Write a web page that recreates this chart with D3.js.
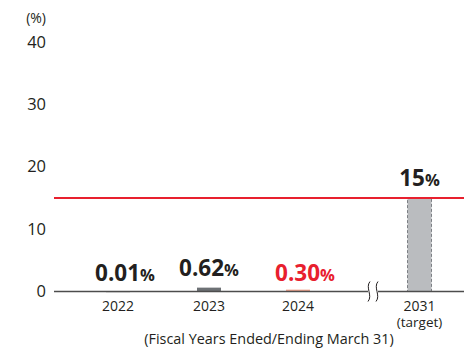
<!DOCTYPE html>
<html><head><meta charset="utf-8">
<script src="https://cdn.jsdelivr.net/npm/d3@7"></script>
<style>body{margin:0;background:#fff}svg{display:block}text{font-family:"Open Sans","Noto Sans",sans-serif}</style>
</head><body><svg id="c" width="464" height="350"></svg>
<script>
const categories = ["2022","2023","2024","2031"];
const values = [0.01, 0.62, 0.30, 15];
const valueLabels = ["0.01","0.62","0.30","15"];
const subLabels = ["","","","(target)"];
const yTicks = [0,10,20,30,40];
const targetValue = 15;
const barColors = ["#c8c8c8","#6d7175","#f2a58e","#babcbf"];
const labelColors = ["#231f20","#231f20","#e8202e","#231f20"];

const svg = d3.select("#c");
const y = d3.scaleLinear().domain([0,40]).range([291.5,41.9]);
const x = d3.scaleOrdinal().domain(categories).range([118,209,298,419.5]);
const bw = 24;
const labelDx = [7,0,7,0];
const labelY = [281,275.5,281,186];

// y axis labels
const yAxis = d3.axisLeft(y).tickValues(yTicks).tickSize(0).tickPadding(0);
const ga = svg.append("g").attr("transform","translate(46,0)").call(yAxis);
ga.select(".domain").remove();
ga.selectAll("text").attr("font-size",16.5).attr("fill","#231f20").attr("font-family","'Open Sans','Noto Sans',sans-serif");
svg.append("text").attr("x",46).attr("y",23).attr("text-anchor","end").attr("font-size",14).attr("fill","#231f20").text("(%)");

// bars
categories.forEach((c,i)=>{
  const r = svg.append("rect").attr("x",x(c)-bw/2).attr("y",y(values[i])).attr("width",bw)
    .attr("height",Math.max(y(0)-y(values[i]),1)).attr("fill",barColors[i]);
  if(i===3) r.attr("stroke","#7d8085").attr("stroke-width",1).attr("stroke-dasharray","3,2");
});

// baseline
svg.append("line").attr("x1",54).attr("x2",464).attr("y1",y(0)).attr("y2",y(0)).attr("stroke","#4d4d4d").attr("stroke-width",1.3);
// break
svg.append("rect").attr("x",368).attr("y",y(0)-3).attr("width",10).attr("height",6).attr("fill","#fff");
[368,376].forEach(bx=>{
  svg.append("path").attr("d",`M${bx+2},${y(0)-10} C${bx-3},${y(0)-4} ${bx+5},${y(0)+4} ${bx},${y(0)+10}`)
    .attr("fill","none").attr("stroke","#231f20").attr("stroke-width",1);
});

// target line
svg.append("line").attr("x1",54).attr("x2",464).attr("y1",y(targetValue)).attr("y2",y(targetValue)).attr("stroke","#e8202e").attr("stroke-width",2);

// value labels
categories.forEach((c,i)=>{
  const t = svg.append("text").attr("x",x(c)+labelDx[i]).attr("y",labelY[i]).attr("text-anchor","middle").attr("fill",labelColors[i]);
  t.append("tspan").attr("font-size",22.5).attr("font-weight","bold").text(valueLabels[i]);
  t.append("tspan").attr("font-size",16.5).attr("font-weight","bold").text("%");
});

// category labels
categories.forEach((c,i)=>{
  svg.append("text").attr("x",x(c)).attr("y",310.5).attr("text-anchor","middle").attr("font-size",14).attr("fill","#231f20").text(c);
  if(subLabels[i]) svg.append("text").attr("x",x(c)).attr("y",327).attr("text-anchor","middle").attr("font-size",13.5).attr("fill","#231f20").text(subLabels[i]);
});
svg.append("text").attr("x",269).attr("y",344).attr("text-anchor","middle").attr("font-size",14.4).attr("fill","#231f20").text("(Fiscal Years Ended/Ending March 31)");
</script></body></html>
